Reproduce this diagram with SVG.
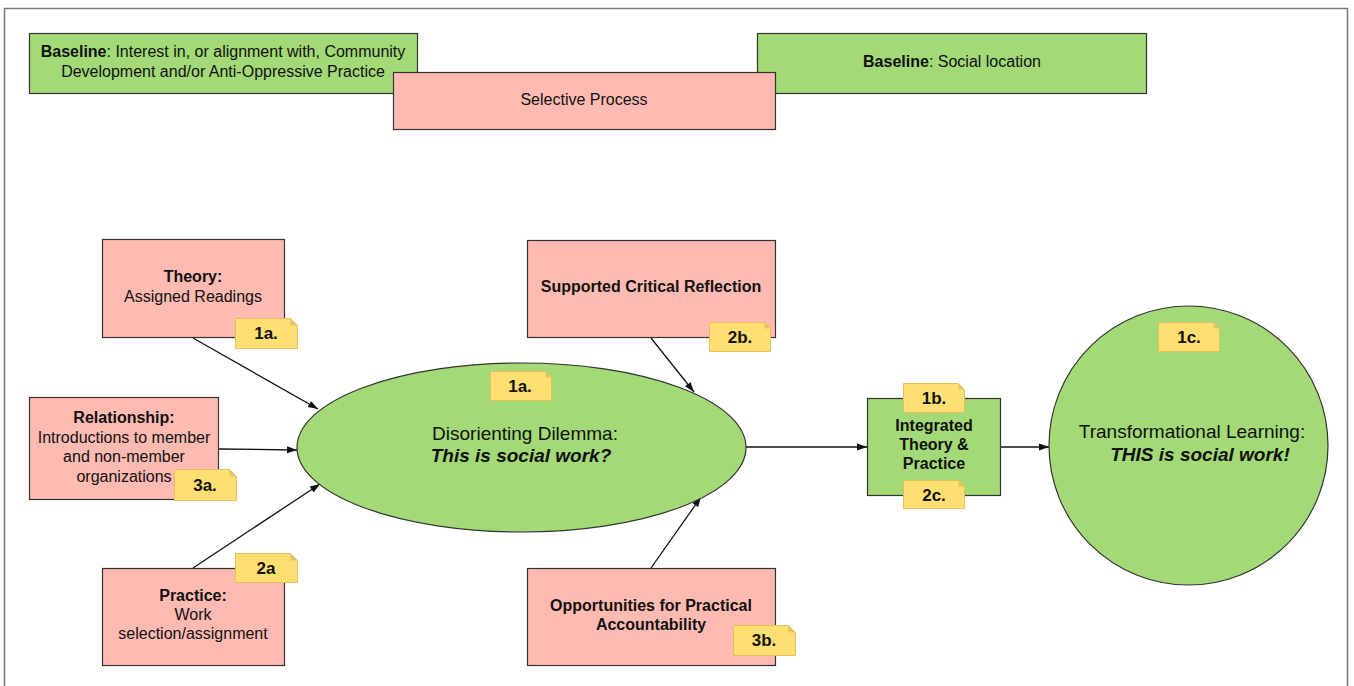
<svg xmlns="http://www.w3.org/2000/svg" width="1354" height="686" viewBox="0 0 1354 686">
<style>
text{font-family:"Liberation Sans",Arial,sans-serif;fill:#111;text-anchor:middle}
.t{font-size:16px}
.b{font-weight:bold}
.big{font-size:19px}
.bi{font-weight:bold;font-style:italic}
.g{fill:#a3d977;stroke:#333;stroke-width:1.2}
.p{fill:#ffbbb1;stroke:#333;stroke-width:1.2}
.n{fill:#ffdf71;stroke:#e0c060;stroke-width:1}
.nf{fill:#e6c463}
.nt{font-size:17px;font-weight:bold}
.c{stroke:#111;stroke-width:1.3;fill:none;marker-end:url(#ah)}
</style>
<defs>
<marker id="ah" viewBox="0 0 10 10" refX="10" refY="5" markerWidth="10" markerHeight="10" markerUnits="userSpaceOnUse" orient="auto">
<path d="M0,1.5 L10,5 L0,8.5 z" fill="#111"/>
</marker>
</defs>
<rect x="0" y="0" width="1354" height="686" fill="#fff"/>
<rect x="4.5" y="8.5" width="1343" height="700" fill="none" stroke="#777" stroke-width="1.5"/>

<g id="connectors">
<line class="c" x1="193" y1="338" x2="318" y2="409"/>
<line class="c" x1="219" y1="449" x2="297" y2="450"/>
<line class="c" x1="193" y1="568" x2="320" y2="484"/>
<line class="c" x1="651" y1="338" x2="694" y2="392"/>
<line class="c" x1="651" y1="568" x2="701" y2="497"/>
<line class="c" x1="746" y1="447" x2="867" y2="447"/>
<line class="c" x1="1001" y1="447" x2="1049" y2="447"/>
</g>

<g id="baseline1">
<rect class="g" x="29.5" y="33.5" width="388" height="60"/>
<text class="t" x="223" y="57"><tspan class="b">Baseline</tspan>: Interest in, or alignment with, Community</text>
<text class="t" x="223" y="77">Development and/or Anti-Oppressive Practice</text>
</g>
<g id="baseline2">
<rect class="g" x="757.5" y="33.5" width="389" height="60"/>
<text class="t" x="952" y="67"><tspan class="b">Baseline</tspan>: Social location</text>
</g>
<g id="selective">
<rect class="p" x="393.5" y="72.5" width="382" height="57"/>
<text class="t" x="584" y="105">Selective Process</text>
</g>

<g id="theory">
<rect class="p" x="102.5" y="239.5" width="182" height="98"/>
<text class="t b" x="193" y="282">Theory:</text>
<text class="t" x="193" y="302">Assigned Readings</text>
</g>
<g id="note-1a-theory">
<path class="n" d="M235.5,318.5 H290.5 L297.5,325.5 V348.5 H235.5 Z"/>
<path class="nf" d="M290.5,318.5 V325.5 H297.5 Z"/>
<text class="nt" x="266" y="339">1a.</text>
</g>

<g id="relationship">
<rect class="p" x="29.5" y="397.5" width="189" height="102"/>
<text class="t b" x="124" y="423">Relationship:</text>
<text class="t" x="124" y="443">Introductions to member</text>
<text class="t" x="124" y="462">and non-member</text>
<text class="t" x="124" y="482">organizations</text>
</g>
<g id="note-3a">
<path class="n" d="M174.5,469.5 H229.5 L236.5,476.5 V500.5 H174.5 Z"/>
<path class="nf" d="M229.5,469.5 V476.5 H236.5 Z"/>
<text class="nt" x="205" y="491">3a.</text>
</g>

<g id="practice">
<rect class="p" x="102.5" y="568.5" width="182" height="97"/>
<text class="t b" x="193" y="601">Practice:</text>
<text class="t" x="193" y="620">Work</text>
<text class="t" x="193" y="639">selection/assignment</text>
</g>
<g id="note-2a">
<path class="n" d="M235.5,553.5 H290.5 L297.5,560.5 V582.5 H235.5 Z"/>
<path class="nf" d="M290.5,553.5 V560.5 H297.5 Z"/>
<text class="nt" x="266" y="574">2a</text>
</g>

<g id="reflection">
<rect class="p" x="527.5" y="240.5" width="248" height="97"/>
<text class="t b" x="651" y="292">Supported Critical Reflection</text>
</g>
<g id="note-2b">
<path class="n" d="M709.5,322.5 H764.5 L770.5,328.5 V351.5 H709.5 Z"/>
<path class="nf" d="M764.5,322.5 V328.5 H770.5 Z"/>
<text class="nt" x="740" y="343">2b.</text>
</g>

<g id="accountability">
<rect class="p" x="527.5" y="568.5" width="248" height="97"/>
<text class="t b" x="651" y="611">Opportunities for Practical</text>
<text class="t b" x="651" y="630">Accountability</text>
</g>
<g id="note-3b">
<path class="n" d="M733.5,625.5 H788.5 L795.5,632.5 V655.5 H733.5 Z"/>
<path class="nf" d="M788.5,625.5 V632.5 H795.5 Z"/>
<text class="nt" x="764" y="646">3b.</text>
</g>

<g id="dilemma">
<ellipse class="g" cx="521.5" cy="447.5" rx="224.5" ry="84.5"/>
<text class="big" x="525" y="440">Disorienting Dilemma:</text>
<text class="big bi" x="521" y="462">This is social work?</text>
</g>
<g id="note-1a-dilemma">
<path class="n" d="M490.5,371.5 H545.5 L551.5,377.5 V400.5 H490.5 Z"/>
<path class="nf" d="M545.5,371.5 V377.5 H551.5 Z"/>
<text class="nt" x="520" y="392">1a.</text>
</g>

<g id="integrated">
<rect class="g" x="867.5" y="398.5" width="133" height="97"/>
<text class="t b" x="934" y="431">Integrated</text>
<text class="t b" x="934" y="450">Theory &amp;</text>
<text class="t b" x="934" y="469">Practice</text>
</g>
<g id="note-1b">
<path class="n" d="M903.5,383.5 H958.5 L964.5,389.5 V412.5 H903.5 Z"/>
<path class="nf" d="M958.5,383.5 V389.5 H964.5 Z"/>
<text class="nt" x="934" y="404">1b.</text>
</g>
<g id="note-2c">
<path class="n" d="M903.5,480.5 H958.5 L964.5,486.5 V508.5 H903.5 Z"/>
<path class="nf" d="M958.5,480.5 V486.5 H964.5 Z"/>
<text class="nt" x="934" y="501">2c.</text>
</g>

<g id="transformational">
<circle class="g" cx="1188.5" cy="445.5" r="139.5"/>
<text class="big" x="1192" y="438">Transformational Learning:</text>
<text class="big bi" x="1200" y="461">THIS is social work!</text>
</g>
<g id="note-1c">
<path class="n" d="M1158.5,322.5 H1213.5 L1219.5,328.5 V351.5 H1158.5 Z"/>
<path class="nf" d="M1213.5,322.5 V328.5 H1219.5 Z"/>
<text class="nt" x="1189" y="343">1c.</text>
</g>
</svg>
